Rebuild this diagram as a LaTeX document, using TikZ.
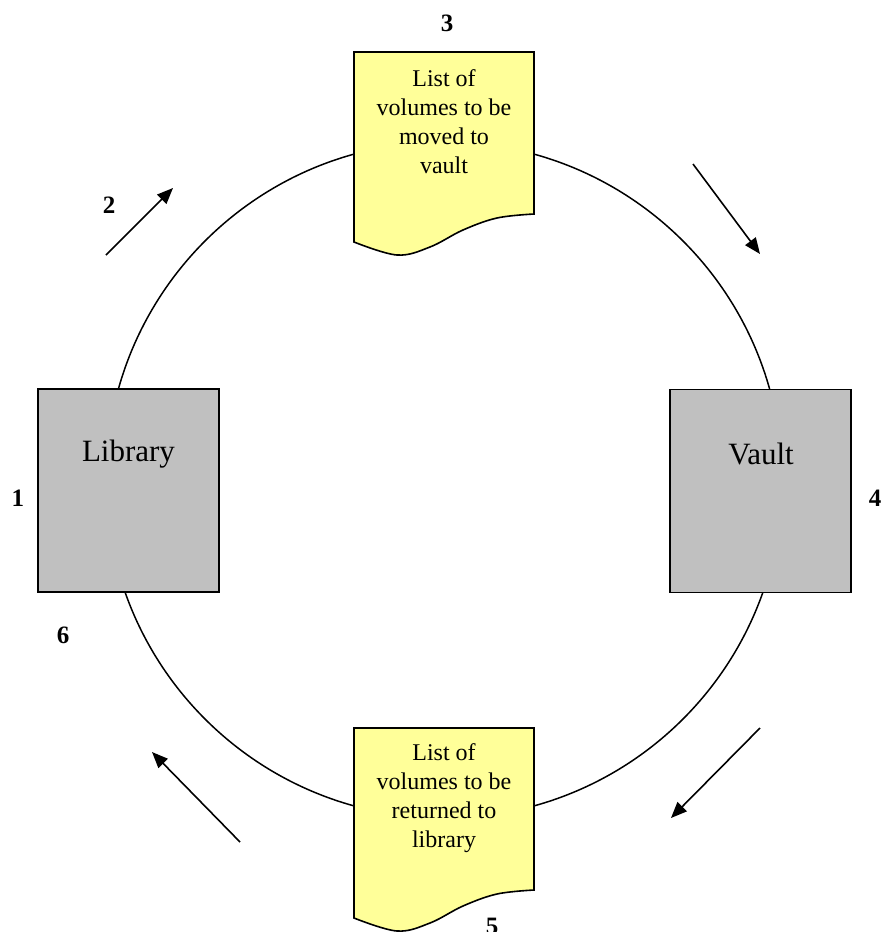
\documentclass[tikz,border=0pt]{standalone}
\usepackage{fontspec}
\setmainfont{Liberation Serif}
\usetikzlibrary{arrows.meta}
\definecolor{docyellow}{HTML}{FFFF99}
\definecolor{boxgray}{HTML}{C0C0C0}
\begin{document}
\begin{tikzpicture}[x=1pt,y=-1pt,
  ring/.style={line width=1.5pt},
  box/.style={draw, line width=1.8pt, fill=boxgray, inner sep=0pt, minimum width=181pt, minimum height=203pt},
  docshape/.style={draw, line width=1.6pt, fill=docyellow, line join=miter},
  doctext/.style={align=center, inner sep=0pt, font=\fontsize{24}{29}\selectfont},
  boxtext/.style={inner sep=0pt, font=\fontsize{31}{36}\selectfont},
  num/.style={inner sep=0pt, font=\fontsize{25}{30}\selectfont\bfseries},
  flow/.style={line width=1.6pt, -{Triangle[length=16pt,width=13pt]}}]
\useasboundingbox (0,0) rectangle (883,932);
% cycle ring
\node[draw, ring, circle, minimum size=676pt, inner sep=0pt] (ring) at (444,480) {};
% boxes
\node[box] (library) at (128.5,490.5) {};
\node[boxtext] (libtext) at (128.5,454) {Library};
\node[box] (vault) at (760.5,491) {};
\node[boxtext] (vaulttext) at (761,454) {Vault};
% top document
\draw[docshape] (354,242) -- (354,52) -- (534,52) -- (534,214) -- plot[smooth, tension=0.6] coordinates {(534,214) (497,218) (463,230) (430,247) (397,255) (354,242)} -- cycle;
\node[doctext] (doctop) at (444,122) {List of\\volumes to be\\moved to\\vault};
% bottom document
\begin{scope}[shift={(0,676)}]
\draw[docshape] (354,242) -- (354,52) -- (534,52) -- (534,214) -- plot[smooth, tension=0.6] coordinates {(534,214) (497,218) (463,230) (430,247) (397,255) (354,242)} -- cycle;
\end{scope}
\node[doctext] (docbottom) at (444,798) {List of\\volumes to be\\returned to\\library};
% numbers
\node[num] (n1) at (18,498) {1};
\node[num] (n2) at (109,205) {2};
\node[num] (n3) at (447,23) {3};
\node[num] (n4) at (875,498) {4};
\node[num] (n5) at (492,926) {5};
\node[num] (n6) at (63,635) {6};
% arrows
\coordinate (a2s) at (106,255); \coordinate (a2e) at (173,188);
\coordinate (a3s) at (693,164); \coordinate (a3e) at (760,254);
\coordinate (a4s) at (760,728); \coordinate (a4e) at (671,818);
\coordinate (a5s) at (240,842); \coordinate (a5e) at (152,752);
\draw[flow] (a2s) -- (a2e);
\draw[flow] (a3s) -- (a3e);
\draw[flow] (a4s) -- (a4e);
\draw[flow] (a5s) -- (a5e);
\end{tikzpicture}
\end{document}
